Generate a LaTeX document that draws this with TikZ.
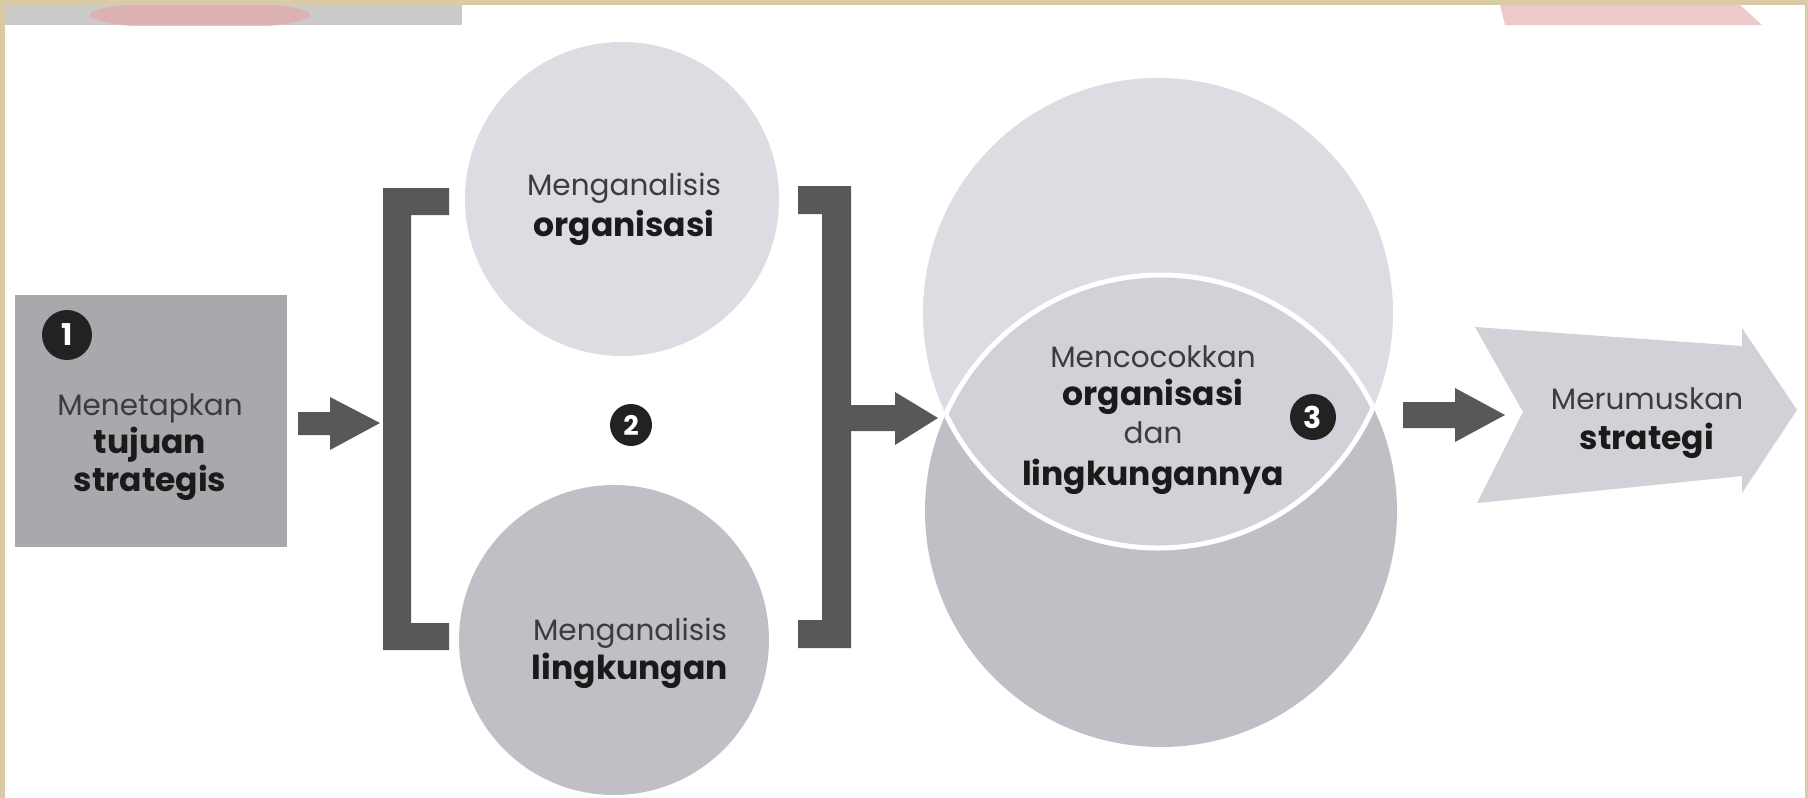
\documentclass[tikz,border=0pt]{standalone}
\usepackage{fontspec}
\setmainfont{Poppins}
\definecolor{frame}{HTML}{D9CBA6}
\definecolor{boxgray}{HTML}{A9A9AD}
\definecolor{lightc}{HTML}{DCDCE2}
\definecolor{midc}{HTML}{BFBFC5}
\definecolor{lensc}{HTML}{D1D1D7}
\definecolor{darkg}{HTML}{58585A}
\definecolor{numb}{HTML}{222222}
\definecolor{txtg}{HTML}{3C3C3E}
\definecolor{txtb}{HTML}{1A1A1A}
\definecolor{bandg}{HTML}{CBCBCB}
\definecolor{bandp}{HTML}{E2A8A6}
\begin{document}
\begin{tikzpicture}[x=1pt,y=-1pt]
\tikzset{
  reg/.style={anchor=base, font=\fontsize{29.5}{30}\selectfont, text=txtg, inner sep=0pt},
  bld/.style={anchor=base, font=\fontsize{33}{33}\selectfont\bfseries, text=txtb, inner sep=0pt},
  num/.style={circle, fill=numb, text=white, font=\fontsize{30}{30}\selectfont\bfseries, inner sep=0pt, minimum size=46pt},
  blk/.style={fill=darkg},
}
\useasboundingbox (0,0) rectangle (1808,798);
\fill[frame] (0,0) rectangle (1808,798);
\fill[white] (5,5) rectangle (1805,798);
% cut-off photo bands at the top
\begin{scope}
  \clip (5,5) rectangle (462,25);
  \fill[bandg] (5,5) rectangle (462,25);
  \fill[bandp, opacity=0.7] (200,15) ellipse [x radius=110pt, y radius=14pt];
\end{scope}
\fill[bandp, opacity=0.6] (1500,5) -- (1740,5) -- (1762,25) -- (1505,25) -- cycle;

% step 1
\node[fill=boxgray, minimum width=272pt, minimum height=252pt, inner sep=0pt] (goal) at (151,421) {};
\node[num, minimum size=50pt] (n1) at (67,335) {1};
\node[reg] (g1) at (150,415) {Menetapkan};
\node[bld] (g2) at (150,453) {tujuan};
\node[bld] (g3) at (150,491) {strategis};

% arrow 1
\fill[blk] (298,412) -- (330,412) -- (330,397) -- (380,423) -- (330,450) -- (330,435) -- (298,435) -- cycle;

% brackets
\fill[blk] (383,188) -- (449,188) -- (449,215) -- (411,215) -- (411,623) -- (449,623) -- (449,650) -- (383,650) -- cycle;
\fill[blk] (798,186) -- (851,186) -- (851,648) -- (798,648) -- (798,620) -- (822,620) -- (822,214) -- (798,214) -- cycle;

% step 2 circles
\node[circle, fill=lightc, minimum size=314pt, inner sep=0pt] (org) at (622,199) {};
\node[reg] (o1) at (624,195) {Menganalisis};
\node[bld] (o2) at (624,236) {organisasi};
\node[circle, fill=midc, minimum size=310pt, inner sep=0pt] (env) at (614,640) {};
\node[reg] (e1) at (630,640) {Menganalisis};
\node[bld] (e2) at (630,679) {lingkungan};
\node[num, minimum size=42pt, font=\fontsize{27}{27}\selectfont\bfseries] (n2) at (631,425) {2};

% arrow 2
\fill[blk] (851,405) -- (895,405) -- (895,392) -- (938,418) -- (895,445) -- (895,431) -- (851,431) -- cycle;

% step 3 : overlapping circles
\fill[lightc] (1158,313) circle [radius=235pt];
\fill[midc] (1161,511) circle [radius=236pt];
\begin{scope}
  \clip (1158,313) circle [radius=235pt];
  \fill[lensc] (1161,511) circle [radius=236pt];
  \draw[white, line width=5pt] (1161,511) circle [radius=236pt];
\end{scope}
\begin{scope}
  \clip (1161,511) circle [radius=236pt];
  \draw[white, line width=5pt] (1158,313) circle [radius=235pt];
\end{scope}
\coordinate (lensL) at (946,412);
\coordinate (lensR) at (1374,412);
\node[reg] (m1) at (1153,367) {Mencocokkan};
\node[bld] (m2) at (1153,405) {organisasi};
\node[reg] (m3) at (1153,443) {dan};
\node[bld] (m4) at (1153,485) {lingkungannya};
\node[num, minimum size=46pt] (n3) at (1313,417) {3};

% arrow 3
\fill[blk] (1403,402) -- (1455,402) -- (1455,388) -- (1505,415) -- (1455,442) -- (1455,428) -- (1403,428) -- cycle;

% step 4 big arrow
\fill[lensc] (1475,327) -- (1742,346) -- (1742,328) -- (1797,410) -- (1742,493) -- (1742,476) -- (1477,503) -- (1523,412) -- cycle;
\coordinate (strat) at (1647,420);
\node[reg] (s1) at (1647,409) {Merumuskan};
\node[bld] (s2) at (1647,449) {strategi};
\end{tikzpicture}
\end{document}
